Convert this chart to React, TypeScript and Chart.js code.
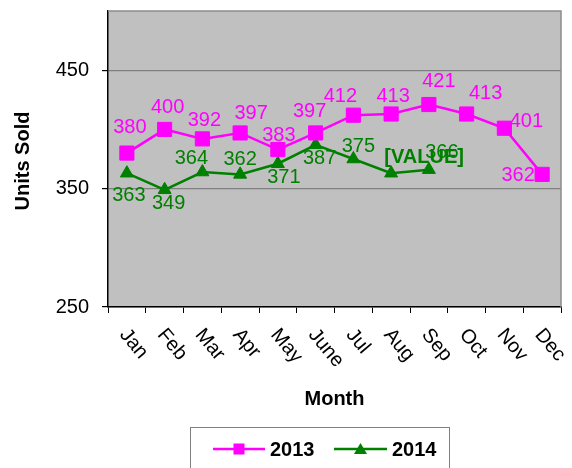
import { useEffect, useRef } from 'react';
import { Chart, registerables } from 'chart.js';

Chart.register(...registerables);

const months = ['Jan', 'Feb', 'Mar', 'Apr', 'May', 'June', 'Jul', 'Aug', 'Sep', 'Oct', 'Nov', 'Dec'];
const seriesNames = ['2013', '2014'];
const sales2013 = [380, 400, 392, 397, 383, 397, 412, 413, 421, 413, 401, 362];
const sales2014 = [363, 349, 364, 362, 371, 387, 375, 363, 366, null, null, null];
const labels2013 = ['380', '400', '392', '397', '383', '397', '412', '413', '421', '413', '401', '362'];
const labels2014 = ['363', '349', '364', '362', '371', '387', '375', '[VALUE]', '366', '', '', ''];
const yTicks = [250, 350, 450];
const yMin = 250;
const yMax = 500;
const xTitle = 'Month';
const yTitle = 'Units Sold';

const FONT = '"Liberation Sans", Arial, Helvetica, sans-serif';
const MAGENTA = '#FF00FF';
const GREEN = '#008000';

// label offsets relative to each point (style only)
const off2013: [number, number][] = [[3, -26], [3, -22], [2, -18], [11, -19], [1, -14], [-6, -21], [-13, -19], [2, -18], [10, -23], [19, -21], [22, -7], [-24, 1]];
const off2014: [number, number][] = [[2, 22], [4, 14], [-11, -14], [0, -15], [6, 14], [4, 14], [5, -13], [33, -16], [13, -17], [0, 0], [0, 0], [0, 0]];

const decor = {
  id: 'decor',
  beforeDraw(chart: any) {
    const { ctx, chartArea: a } = chart;
    ctx.save();
    ctx.fillStyle = '#C0C0C0';
    ctx.fillRect(a.left, a.top, a.right - a.left, a.bottom - a.top);
    ctx.restore();
  },
  beforeDatasetsDraw(chart: any) {
    const { ctx, chartArea: a } = chart;
    ctx.save();
    ctx.strokeStyle = '#8C8C8C';
    ctx.lineWidth = 1.5;
    ctx.beginPath();
    ctx.moveTo(a.left, a.top);
    ctx.lineTo(a.right, a.top);
    ctx.lineTo(a.right, a.bottom);
    ctx.stroke();
    ctx.restore();
  },
  afterDatasetsDraw(chart: any) {
    const { ctx } = chart;
    ctx.save();
    ctx.textAlign = 'center';
    ctx.textBaseline = 'middle';
    const sets = [
      { labels: labels2013, offs: off2013, color: MAGENTA },
      { labels: labels2014, offs: off2014, color: GREEN },
    ];
    sets.forEach((s, di) => {
      const meta = chart.getDatasetMeta(di);
      meta.data.forEach((pt: any, i: number) => {
        const txt = s.labels[i];
        if (!txt || pt.skip) return;
        const bold = txt.startsWith('[');
        ctx.font = `${bold ? 'bold ' : ''}20px ${FONT}`;
        ctx.fillStyle = s.color;
        ctx.fillText(txt, pt.x + s.offs[i][0], pt.y + s.offs[i][1]);
      });
    });
    ctx.restore();
  },
  afterDraw(chart: any) {
    const { ctx, chartArea: a } = chart;
    const xs = chart.scales.x;
    ctx.save();
    // month tick labels, rotated clockwise
    ctx.fillStyle = '#000';
    ctx.font = `20px ${FONT}`;
    ctx.textAlign = 'left';
    ctx.textBaseline = 'top';
    months.forEach((m, i) => {
      const x = xs.getPixelForValue(i);
      ctx.save();
      ctx.translate(x + 4, a.bottom + 18);
      ctx.rotate((50 * Math.PI) / 180);
      ctx.fillText(m, 0, 0);
      ctx.restore();
    });
    // axis titles
    ctx.font = `bold 20px ${FONT}`;
    ctx.textAlign = 'center';
    ctx.textBaseline = 'middle';
    ctx.fillText(xTitle, (a.left + a.right) / 2, 399);
    ctx.save();
    ctx.translate(23, 161);
    ctx.rotate(-Math.PI / 2);
    ctx.fillText(yTitle, 0, 0);
    ctx.restore();
    // legend
    ctx.strokeStyle = '#808080';
    ctx.lineWidth = 1;
    ctx.strokeRect(190.5, 427.5, 259, 60);
    const ly = 449;
    const items = [
      { name: seriesNames[0], color: MAGENTA, x0: 213, x1: 265, tx: 270, shape: 'rect' },
      { name: seriesNames[1], color: GREEN, x0: 334, x1: 387, tx: 392, shape: 'tri' },
    ];
    items.forEach((it) => {
      ctx.strokeStyle = it.color;
      ctx.fillStyle = it.color;
      ctx.lineWidth = 2.5;
      ctx.beginPath();
      ctx.moveTo(it.x0, ly);
      ctx.lineTo(it.x1, ly);
      ctx.stroke();
      const cx = (it.x0 + it.x1) / 2;
      if (it.shape === 'rect') {
        ctx.fillRect(cx - 5.5, ly - 5.5, 11, 11);
      } else {
        ctx.beginPath();
        ctx.moveTo(cx, ly - 6);
        ctx.lineTo(cx + 6.5, ly + 5);
        ctx.lineTo(cx - 6.5, ly + 5);
        ctx.closePath();
        ctx.fill();
      }
      ctx.fillStyle = '#000';
      ctx.font = `bold 20px ${FONT}`;
      ctx.textAlign = 'left';
      ctx.textBaseline = 'middle';
      ctx.fillText(it.name, it.tx, ly + 1);
    });
    ctx.restore();
  },
};

export default function App() {
  const ref = useRef<HTMLCanvasElement | null>(null);
  useEffect(() => {
    if (!ref.current) return;
    const chart = new Chart(ref.current, {
      type: 'line',
      data: {
        labels: months,
        datasets: [
          {
            label: seriesNames[0],
            data: sales2013,
            borderColor: MAGENTA,
            backgroundColor: MAGENTA,
            borderWidth: 2.5,
            pointStyle: 'rect',
            pointRadius: 10,
            pointHoverRadius: 10,
            pointBorderWidth: 1,
            tension: 0,
          },
          {
            label: seriesNames[1],
            data: sales2014,
            borderColor: GREEN,
            backgroundColor: GREEN,
            borderWidth: 2.5,
            pointStyle: 'triangle',
            pointRadius: 7.5,
            pointHoverRadius: 7.5,
            pointBorderWidth: 1,
            tension: 0,
            spanGaps: false,
          },
        ],
      },
      options: {
        responsive: false,
        animation: false,
        events: [],
        layout: { padding: { top: 10, right: 9, left: 0, bottom: 0 } },
        plugins: { legend: { display: false }, tooltip: { enabled: false } },
        scales: {
          x: {
            type: 'category',
            offset: true,
            grid: { offset: true, drawOnChartArea: false, drawTicks: true, tickLength: 6, tickColor: '#000' },
            border: { color: '#000', width: 1.5 },
            ticks: { display: false },
            afterFit(s: any) {
              s.height = 161;
              s.paddingLeft = 0;
              s.paddingRight = 0;
            },
          },
          y: {
            min: yMin,
            max: yMax,
            afterBuildTicks(s: any) {
              s.ticks = yTicks.map((v) => ({ value: v }));
            },
            grid: { color: '#808080', tickColor: '#000', tickLength: 6, lineWidth: 1.2 },
            border: { color: '#000', width: 1.5 },
            ticks: { color: '#000', font: { size: 20, family: FONT }, padding: 13 },
            afterFit(s: any) {
              s.width = 108;
              s.paddingTop = 0;
              s.paddingBottom = 0;
            },
          },
        },
      },
      plugins: [decor],
    });
    return () => chart.destroy();
  }, []);
  return (
    <div style={{ position: 'fixed', left: 0, top: 0, width: 572, height: 468, background: '#fff' }}>
      <canvas ref={ref} width={572} height={468} style={{ display: 'block' }} />
    </div>
  );
}
